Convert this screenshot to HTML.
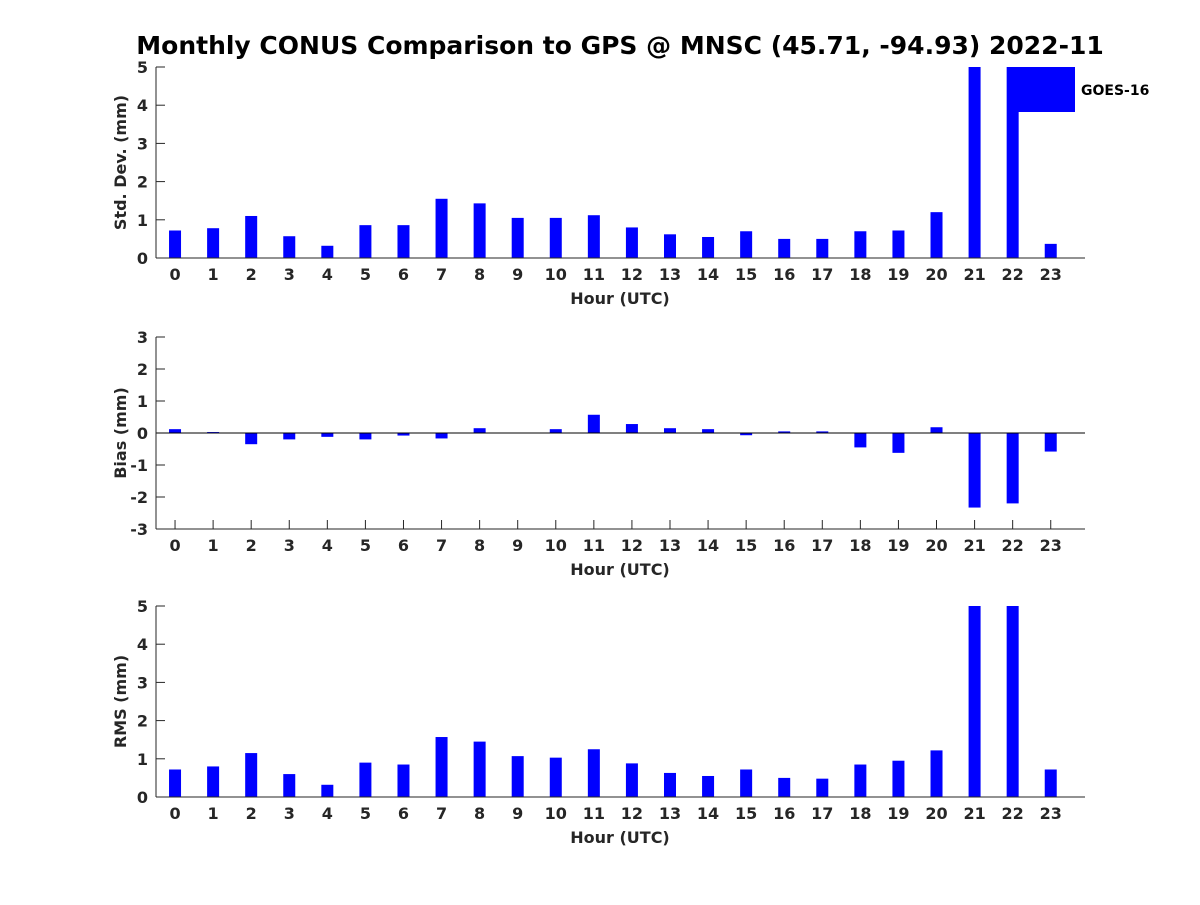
<!DOCTYPE html>
<html><head><meta charset="utf-8"><style>
body{margin:0;background:#fff;}
svg text{font-family:"DejaVu Sans","Liberation Sans",sans-serif;font-weight:bold;fill:#262626;}
</style></head><body>
<svg id="chart" width="1200" height="900" xmlns="http://www.w3.org/2000/svg">
<rect width="1200" height="900" fill="#fff"/>
<text x="620" y="54" text-anchor="middle" font-size="25" style="fill:#000">Monthly CONUS Comparison to GPS @ MNSC (45.71, -94.93) 2022-11</text>
</svg>
<script>
const hours=[0,1,2,3,4,5,6,7,8,9,10,11,12,13,14,15,16,17,18,19,20,21,22,23];
const stdVals=[0.72,0.78,1.1,0.57,0.32,0.86,0.86,1.55,1.43,1.05,1.05,1.12,0.8,0.62,0.55,0.7,0.5,0.5,0.7,0.72,1.2,5,5,0.37];
const biasVals=[0.12,0.03,-0.35,-0.2,-0.12,-0.2,-0.08,-0.17,0.15,0,0.12,0.57,0.28,0.15,0.12,-0.07,0.05,0.05,-0.45,-0.62,0.18,-2.33,-2.2,-0.58];
const rmsVals=[0.72,0.8,1.15,0.6,0.32,0.9,0.85,1.57,1.45,1.07,1.03,1.25,0.88,0.63,0.55,0.72,0.5,0.48,0.85,0.95,1.22,5,5,0.72];
const stdTicks=[0,1,2,3,4,5];
const biasTicks=[-3,-2,-1,0,1,2,3];
const rmsTicks=[0,1,2,3,4,5];
const NS="http://www.w3.org/2000/svg";
const svg=document.getElementById('chart');
function mk(tag,attrs,parent){const e=document.createElementNS(NS,tag);for(const k in attrs)e.setAttribute(k,attrs[k]);(parent||svg).appendChild(e);return e;}
const L=156,R=1085;
const xS=h=>L+(h+0.5)*(R-L)/24.4;
function panel(name,top,bot,ymin,ymax,vals,ticks,ylabel){
  const g=mk('g',{});
  
  
  const yS=v=>bot-(v-ymin)/(ymax-ymin)*(bot-top);
  ticks.forEach(t=>{
    const y=yS(t);
    mk('line',{x1:L,x2:L+9,y1:y,y2:y,stroke:'#262626'},g);
    const tx=mk('text',{x:L-8,y:y+6,'text-anchor':'end','font-size':16},g);tx.textContent=t;
    
    
  });
  hours.forEach(h=>{
    const x=xS(h);
    mk('line',{x1:x,x2:x,y1:bot,y2:bot-9,stroke:'#262626'},g);
    const tx=mk('text',{x:x,y:bot+22,'text-anchor':'middle','font-size':16},g);tx.textContent=h;
    
    
  });
  vals.forEach((v,i)=>{
    const y0=yS(0),y1=yS(Math.max(ymin,Math.min(ymax,v)));
    const r=mk('rect',{x:xS(hours[i])-6,y:Math.min(y0,y1),width:12,height:Math.max(Math.abs(y1-y0),0.5),fill:'#0000ff'},g);
    
    
  });
  if(ymin<0) mk('line',{x1:L,x2:R,y1:yS(0),y2:yS(0),stroke:'#000','stroke-width':1},g);
  mk('line',{x1:L,x2:L,y1:top,y2:bot,stroke:'#262626','stroke-width':1},g);
  mk('line',{x1:L,x2:R,y1:bot,y2:bot,stroke:'#262626','stroke-width':1},g);
  const xl=mk('text',{x:620,y:bot+46,'text-anchor':'middle','font-size':16},g);xl.textContent='Hour (UTC)';
  
  
  const cy=(top+bot)/2;
  const yl=mk('text',{x:126,y:cy,'text-anchor':'middle','font-size':16,transform:'rotate(-90 126 '+cy+')'},g);yl.textContent=ylabel;
  
  
}
panel('std-dev',67,258,0,5,stdVals,stdTicks,'Std. Dev. (mm)');
panel('bias',337,529,-3,3,biasVals,biasTicks,'Bias (mm)');
panel('rms',606,797,0,5,rmsVals,rmsTicks,'RMS (mm)');
const lg=mk('g',{});


mk('rect',{x:1008,y:67,width:67,height:45,fill:'#0000ff'},lg);
const lt=mk('text',{x:1081,y:95,'font-size':14,style:'fill:#000'},lg);lt.textContent='GOES-16';


</script>
</body></html>
